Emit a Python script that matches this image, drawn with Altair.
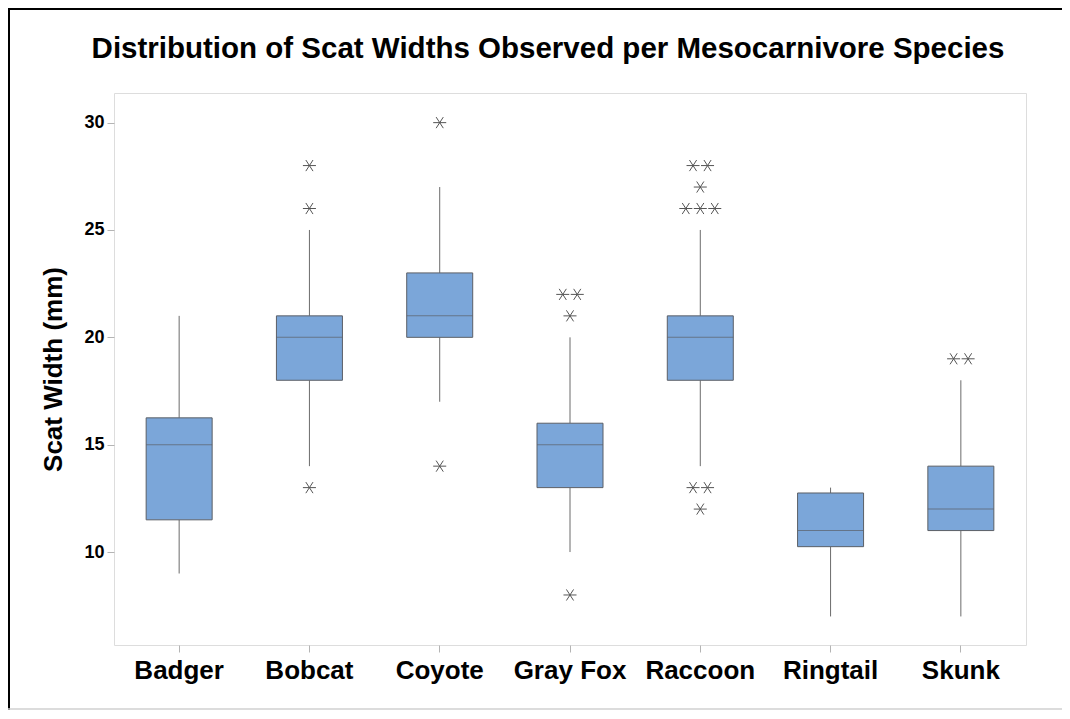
import altair as alt
import pandas as pd

species = ["Badger", "Bobcat", "Coyote", "Gray Fox", "Raccoon", "Ringtail", "Skunk"]
whisker_low = [9, 14, 17, 10, 14, 7, 7]
q1 = [11.5, 18, 20, 13, 18, 10.25, 11]
median = [15, 20, 21, 15, 20, 11, 12]
q3 = [16.25, 21, 23, 16, 21, 12.75, 14]
whisker_high = [21, 25, 27, 20, 25, 13, 18]

outlier_species = ["Bobcat", "Bobcat", "Bobcat",
                   "Coyote", "Coyote",
                   "Gray Fox", "Gray Fox", "Gray Fox", "Gray Fox",
                   "Raccoon", "Raccoon", "Raccoon", "Raccoon", "Raccoon", "Raccoon",
                   "Raccoon", "Raccoon", "Raccoon",
                   "Skunk", "Skunk"]
outlier_values = [28, 26, 13,
                  30, 14,
                  22, 22, 21, 8,
                  28, 28, 27, 26, 26, 26,
                  13, 13, 12,
                  19, 19]

title_text = "Distribution of Scat Widths Observed per Mesocarnivore Species"

box = pd.DataFrame({"species": species, "low": whisker_low, "q1": q1,
                    "median": median, "q3": q3, "high": whisker_high})

out = pd.DataFrame({"species": outlier_species, "value": outlier_values})
# spread identical values side by side (as the original does)
out["rank"] = out.groupby(["species", "value"]).cumcount()
out["n"] = out.groupby(["species", "value"])["value"].transform("count")
out["off"] = out["rank"] - (out["n"] - 1) / 2.0

FONT = "Liberation Sans"
BOX_FILL = "#7BA6D9"
BOX_STROKE = "#5B5F66"
LINE = "#6B6B6B"

x_enc = alt.X("species:N", sort=species,
              scale=alt.Scale(paddingInner=0, paddingOuter=0),
              axis=alt.Axis(title=None, labelAngle=0, labelFont=FONT, labelFontSize=26,
                            labelFontWeight="bold", labelColor="black", labelPadding=5,
                            tickSize=7, tickColor="#B4B4B4", domain=False))
y_scale = alt.Scale(domain=[5.67, 31.38], nice=False, zero=False)
y_axis = alt.Axis(title="Scat Width (mm)", values=[10, 15, 20, 25, 30], grid=False,
                  labelFont=FONT, labelFontSize=18, labelFontWeight="bold", labelColor="black",
                  labelPadding=3, tickSize=7, tickColor="#B4B4B4", domain=False,
                  titleFont=FONT, titleFontSize=26, titleFontWeight="bold", titleColor="black",
                  titlePadding=17)

base = alt.Chart(box)

whisk_lo = base.mark_rule(color=LINE, strokeWidth=1).encode(
    x=x_enc, y=alt.Y("low:Q", scale=y_scale, axis=y_axis), y2="q1:Q")
whisk_hi = base.mark_rule(color=LINE, strokeWidth=1).encode(
    x=x_enc, y=alt.Y("q3:Q", scale=y_scale, axis=y_axis), y2="high:Q")
boxes = base.mark_bar(size=66, color=BOX_FILL, stroke=BOX_STROKE, strokeWidth=1).encode(
    x=x_enc, y=alt.Y("q1:Q", scale=y_scale, axis=y_axis), y2="q3:Q")
med = base.mark_tick(size=66, thickness=1, color=BOX_STROKE).encode(
    x=x_enc, y=alt.Y("median:Q", scale=y_scale, axis=y_axis))

asterisk = "M-1,0L1,0M-0.55,-0.85L0.55,0.85M-0.55,0.85L0.55,-0.85"
points = alt.Chart(out).mark_point(shape=asterisk, filled=False, size=170,
                                    stroke="#555555", strokeWidth=1, opacity=1).encode(
    x=x_enc,
    xOffset=alt.XOffset("off:Q", scale=alt.Scale(domain=[-4.5, 4.5])),
    y=alt.Y("value:Q", scale=y_scale, axis=y_axis))

frame_data = alt.Data(values=[{"k": 1}])
title_mark = alt.Chart(alt.Data(values=[{"t": title_text}])).mark_text(
    font=FONT, fontSize=29.5, fontWeight="bold", color="black",
    align="center", baseline="alphabetic").encode(
    text="t:N", x=alt.value(434), y=alt.value(-35))
left_line = alt.Chart(frame_data).mark_rule(color="black", strokeWidth=2).encode(
    x=alt.value(-105), y=alt.value(-85), y2=alt.value(617))
top_line = alt.Chart(frame_data).mark_rule(color="black", strokeWidth=2).encode(
    x=alt.value(-106), x2=alt.value(948), y=alt.value(-84))
bottom_line = alt.Chart(frame_data).mark_rule(color="#D0D0D0", strokeWidth=1.5).encode(
    x=alt.value(-106), x2=alt.value(948), y=alt.value(616))

chart = alt.layer(whisk_lo, whisk_hi, boxes, med, points, title_mark,
                  left_line, top_line, bottom_line).properties(
    width=912, height=552,
    autosize=alt.AutoSizeParams(type="none"),
    padding={"left": 106, "top": 85, "right": 36, "bottom": 65},
).configure_view(stroke="#B4B4B4", strokeWidth=1).configure(background="white")

chart.save("out.html", embed_options={"renderer": "svg", "actions": False})
